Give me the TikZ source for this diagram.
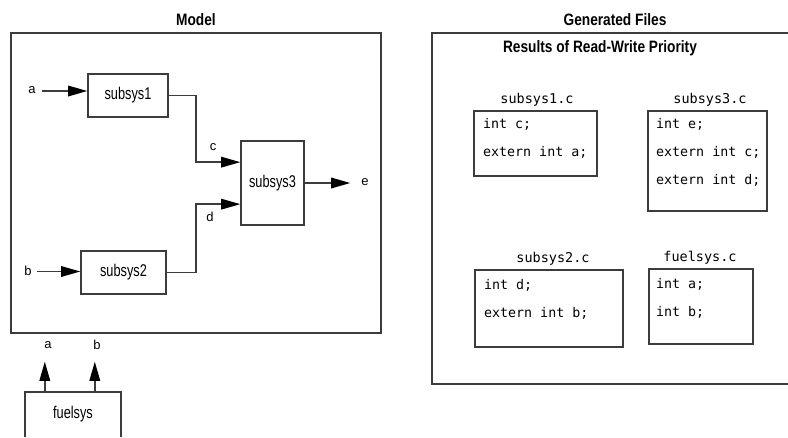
\documentclass[tikz,border=0pt]{standalone}
\usepackage{fontspec}
\setmainfont{Liberation Sans}
\setmonofont{DejaVu Sans Mono}
\newfontfamily\condfont[FakeStretch=0.75]{Liberation Sans}
\newfontfamily\titlefont[FakeStretch=0.83]{Liberation Sans}
\usetikzlibrary{arrows.meta,calc}
\definecolor{ln}{HTML}{3C3C3C}
\begin{document}
\begin{tikzpicture}[x=1pt,y=-1pt,
  blk/.style={draw=ln,line width=1.7pt,inner sep=0,font=\condfont\fontsize{17}{19}\selectfont},
  sig/.style={draw=ln,line width=1.7pt,-{Triangle[length=19pt,width=11pt,fill=black,line width=0pt]}},
  wire/.style={draw=ln,line width=1.7pt},
  lbl/.style={font=\fontsize{13}{15}\selectfont,inner sep=0},
  ttl/.style={font=\titlefont\bfseries\fontsize{16.5}{19}\selectfont,inner sep=0},
  cbox/.style={draw=ln,line width=1.7pt,inner sep=0},
  code/.style={font=\ttfamily\fontsize{13.3}{15}\selectfont,anchor=base west,inner sep=0},
  fname/.style={font=\ttfamily\fontsize{13.5}{16}\selectfont,inner sep=0}]
\useasboundingbox (0,0) rectangle (788,437);

% ---------- Model ----------
\node[ttl] (modelt) at (196,20) {Model};
\node[cbox,minimum width=370pt,minimum height=300pt] (model) at (196,183) {};

\node[blk,minimum width=80pt,minimum height=43pt] (s1) at (128,95.5) {subsys1};
\node[blk,minimum width=85pt,minimum height=43pt] (s2) at (123.5,272.5) {subsys2};
\node[blk,minimum width=63pt,minimum height=84pt] (s3) at (272.5,183) {subsys3};

\node[lbl] (la) at (32,90) {a};
\coordinate (ain) at (42,91);
\draw[sig] (ain) -- (ain -| s1.west);
\node[lbl] (lb) at (28,270.5) {b};
\coordinate (bin) at (37,271.5);
\draw[sig] (bin) -- (bin -| s2.west);

\draw[sig] (s1.east) -- ++(27,0) |- ($(s3.north west)+(0,22)$);
\node[lbl] (lc) at (213,147) {c};
\draw[sig] (s2.east) -- ++(29,0) |- ($(s3.north west)+(0,64)$);
\node[lbl] (ld) at (210,217) {d};

\node[lbl] (le) at (365,182) {e};
\draw[sig] (s3.east) -- ([xshift=-11pt]s3.east -| le.west);

% ---------- fuelsys ----------
\node[font=\condfont\fontsize{17}{19}\selectfont,inner sep=0,minimum width=96pt,minimum height=45pt] (fuel) at (73,414.5) {fuelsys};
\draw[wire] (fuel.south west) -- (fuel.north west) -- (fuel.north east) -- (fuel.south east);
\node[lbl] (fa) at (48,345) {a};
\node[lbl] (fb) at (97,345) {b};
\draw[sig] ($(fuel.north west)+(20,0)$) -- ($(fuel.north west)+(20,-30)$);
\draw[sig] ($(fuel.north west)+(70,0)$) -- ($(fuel.north west)+(70,-30)$);

% ---------- Generated files ----------
\node[ttl] (gt) at (615,20) {Generated Files};
\coordinate (gtr) at (789,33);
\coordinate (gtl) at (432,33);
\coordinate (gbl) at (432,384);
\coordinate (gbr) at (789,384);
\draw[wire] (gtr) -- (gtl) -- (gbl) -- (gbr);
\node[ttl] (rt) at (600,48) {Results of Read-Write Priority};

\node[fname] (f1) at (537,100) {subsys1.c};
\node[cbox,minimum width=123pt,minimum height=65pt] (c1) at (535.5,143.5) {};
\node[code] (c1a) at (483,128) {int c;};
\node[code] (c1b) at (483,156) {extern int a;};

\node[fname] (f3) at (710,100) {subsys3.c};
\node[cbox,minimum width=119pt,minimum height=100pt] (c3) at (707.5,161) {};
\node[code] (c3a) at (656,128) {int e;};
\node[code] (c3b) at (656,156) {extern int c;};
\node[code] (c3c) at (656,184) {extern int d;};

\node[fname] (f2) at (553,259) {subsys2.c};
\node[cbox,minimum width=148pt,minimum height=77pt] (c2) at (549,308.5) {};
\node[code] (c2a) at (484,289) {int d;};
\node[code] (c2b) at (484,317) {extern int b;};

\node[fname] (ff) at (700,258) {fuelsys.c};
\node[cbox,minimum width=104pt,minimum height=75pt] (cf) at (701,306.5) {};
\node[code] (cfa) at (656,288) {int a;};
\node[code] (cfb) at (656,316) {int b;};
\end{tikzpicture}
\end{document}
